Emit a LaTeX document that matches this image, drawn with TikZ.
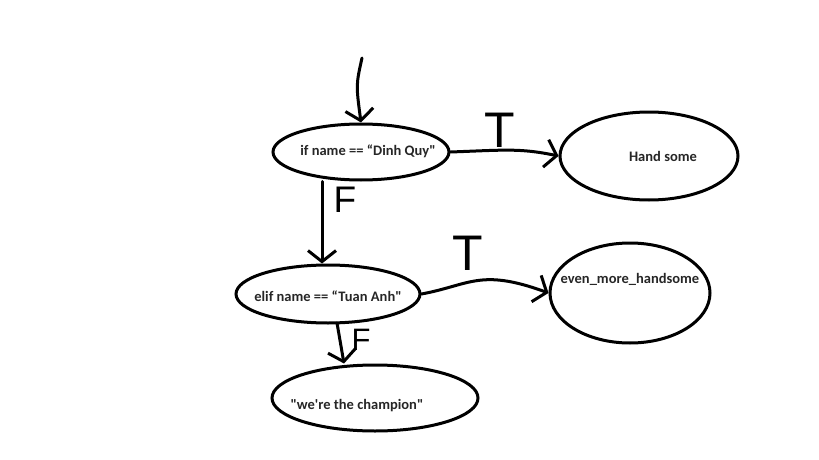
\documentclass[tikz,border=0pt]{standalone}
\usepackage{fontspec}
\newfontfamily\lblfont{Carlito}
\newfontfamily\tffont{Liberation Sans}
\usetikzlibrary{shapes.geometric,arrows.meta}
\begin{document}
\begin{tikzpicture}[x=1pt,y=-1pt,
  blob/.style={draw=black,line width=3pt,ellipse,inner sep=0pt},
  lbl/.style={font=\lblfont\fontsize{14.5}{17}\selectfont\bfseries,text=black!85},
  tfmark/.style={font=\tffont\fontsize{50}{50}\selectfont,inner sep=0pt},
  fmark/.style={font=\tffont\fontsize{37}{37}\selectfont,inner sep=0pt},
  conn/.style={line width=3pt,line cap=round,-{Straight Barb[length=11pt,width=28pt,line width=3pt]}}]
\useasboundingbox (0,0) rectangle (819,460);
% blobs
\node[blob,minimum width=176pt,minimum height=56pt] (if) at (361,152) {};
\node[blob,minimum width=178pt,minimum height=88pt] (hand) at (649,156) {};
\node[blob,minimum width=184pt,minimum height=58pt] (elif) at (328,294) {};
\node[blob,minimum width=160pt,minimum height=100pt] (even) at (630,293) {};
\node[blob,minimum width=206pt,minimum height=66pt] (champ) at (375,398) {};
% texts
\node[lbl] (tif) at (368,151) {if name == “Dinh Quy"};
\node[lbl] (thand) at (663,156) {Hand some};
\node[lbl] (telif) at (328,296) {elif name == “Tuan Anh"};
\node[lbl] (teven) at (630,279) {even\_more\_handsome};
\node[lbl] (tchamp) at (357,406) {"we're the champion"};
% connectors
\coordinate (start) at (362,58);
\draw[conn] (start) .. controls (356,85) .. (if.north);
\draw[conn] (if.east) .. controls (505,150) and (520,148) .. (hand.west);
\draw[conn] (if.south -| 322,0) -- (elif.north -| 322,0);
\draw[conn] (elif.east) .. controls (470,285) and (480,268) .. (even.west);
\draw[conn] (337,323) -- ([xshift=-31pt]champ.north);
% labels T / F
\node[tfmark] (t1) at (500,130) {T};
\node[fmark] (f1) at (345,200) {F};
\node[tfmark] (t2) at (468,253) {T};
\node[fmark,font=\tffont\fontsize{31}{31}\selectfont] (f2) at (361,340) {F};
\end{tikzpicture}
\end{document}
